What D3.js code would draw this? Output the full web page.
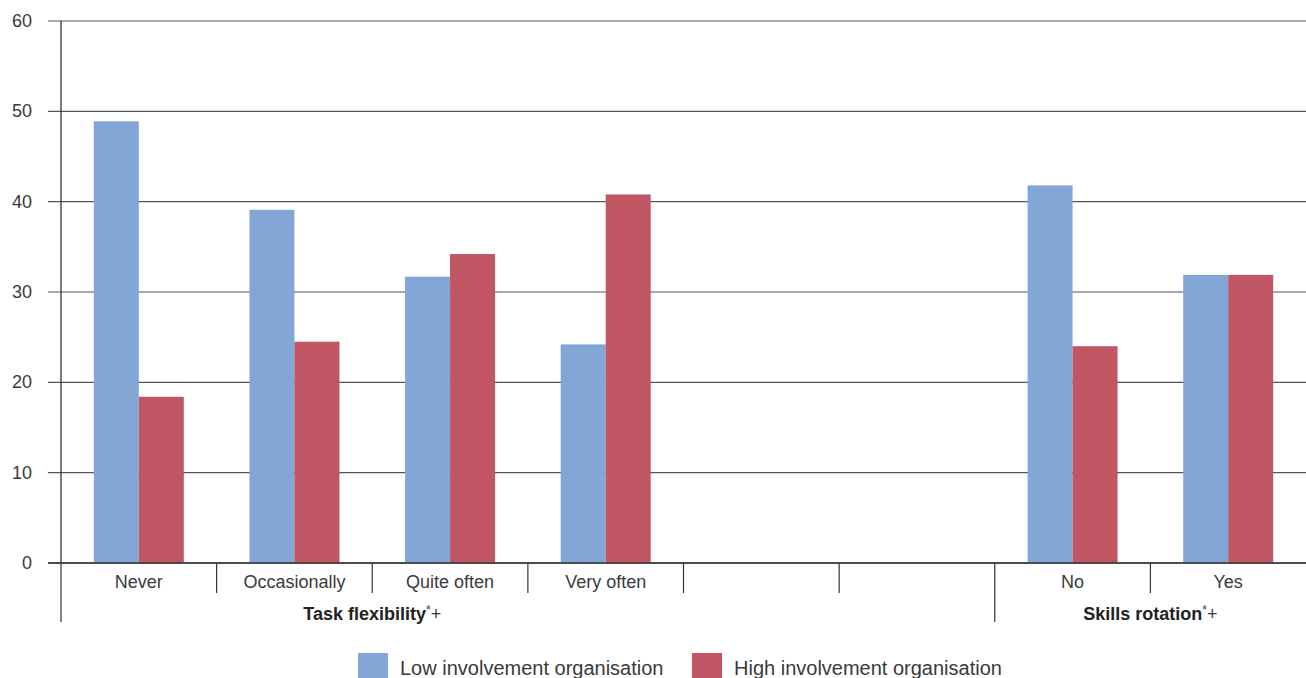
<!DOCTYPE html>
<html><head><meta charset="utf-8">
<script src="https://cdn.jsdelivr.net/npm/d3@7"></script>
<style>body{margin:0;background:#fff}svg{display:block}text{font-family:"Liberation Sans",Arial,sans-serif;fill:#3a3a3a}</style>
</head><body>
<svg id="c" width="1306" height="678"></svg>
<script>
const categories = ["Never","Occasionally","Quite often","Very often","gap1","gap2","No","Yes"];
const categoryLabels = ["Never","Occasionally","Quite often","Very often","","","No","Yes"];
const lowValues = [48.9,39.1,31.7,24.2,null,null,41.8,31.9];
const highValues = [18.4,24.5,34.2,40.8,null,null,24.0,31.9];
const seriesNames = ["Low involvement organisation","High involvement organisation"];
const seriesColors = ["#82a7d6","#c05664"];
const yTicks = [0,10,20,30,40,50,60];
const groups = [{label:"Task flexibility",from:0,to:4},{label:"Skills rotation",from:6,to:8}];

const svg = d3.select("#c");
const L = 61, R = 1306, T = 21, B = 563;
const x = d3.scaleBand().domain(categories).range([L,R]).padding(0);
const y = d3.scaleLinear().domain([0,60]).range([B,T]);
const bw = 45;

svg.append("g").selectAll("line").data(yTicks).join("line")
  .attr("x1",48).attr("x2",R).attr("y1",d=>y(d)).attr("y2",d=>y(d))
  .attr("stroke",d=>d===0?"#333":"#555").attr("stroke-width",1.2);
svg.append("g").selectAll("text").data(yTicks).join("text")
  .attr("x",32).attr("y",d=>y(d)+6).attr("text-anchor","end")
  .attr("font-size",18).text(d=>d);

const series = [lowValues, highValues];
series.forEach((vals,si)=>{
  svg.append("g").selectAll("rect").data(categories.map((c,i)=>({c,v:vals[i]})).filter(d=>d.v!=null))
    .join("rect")
    .attr("x",d=>x(d.c)+x.bandwidth()/2 - bw + si*bw)
    .attr("width",bw)
    .attr("y",d=>y(d.v)).attr("height",d=>B-y(d.v))
    .attr("fill",seriesColors[si]);
});

svg.append("line").attr("x1",L).attr("x2",L).attr("y1",T).attr("y2",B).attr("stroke","#222").attr("stroke-width",1.2);
svg.append("line").attr("x1",48).attr("x2",R).attr("y1",B).attr("y2",B).attr("stroke","#333").attr("stroke-width",1.4);

const seps = categories.map(c=>x(c));
svg.append("g").selectAll("line").data(seps).join("line")
  .attr("x1",d=>d).attr("x2",d=>d).attr("y1",B)
  .attr("y2",(d,i)=> (i===0||i===6)?622:593)
  .attr("stroke","#333").attr("stroke-width",1.2);

svg.append("g").selectAll("text").data(categories).join("text")
  .attr("x",d=>x(d)+x.bandwidth()/2).attr("y",588).attr("text-anchor","middle")
  .attr("font-size",18).text((d,i)=>categoryLabels[i]);

groups.forEach(g=>{
  const cx = (x(categories[g.from]) + x(categories[g.to-1])+x.bandwidth())/2;
  const t = svg.append("text").attr("x",cx).attr("y",620).attr("text-anchor","middle").attr("font-size",18);
  t.append("tspan").attr("font-weight","bold").style("fill","#222").text(g.label);
  t.append("tspan").attr("font-size",12).attr("dy",-6).text("*");
  t.append("tspan").attr("font-size",18).attr("dy",6).text("+");
});

const lx = [358,692];
seriesNames.forEach((n,i)=>{
  svg.append("rect").attr("x",lx[i]).attr("y",653).attr("width",30).attr("height",30).attr("fill",seriesColors[i]);
  svg.append("text").attr("x",lx[i]+42).attr("y",675).attr("font-size",20).text(n);
});
</script>
</body></html>
